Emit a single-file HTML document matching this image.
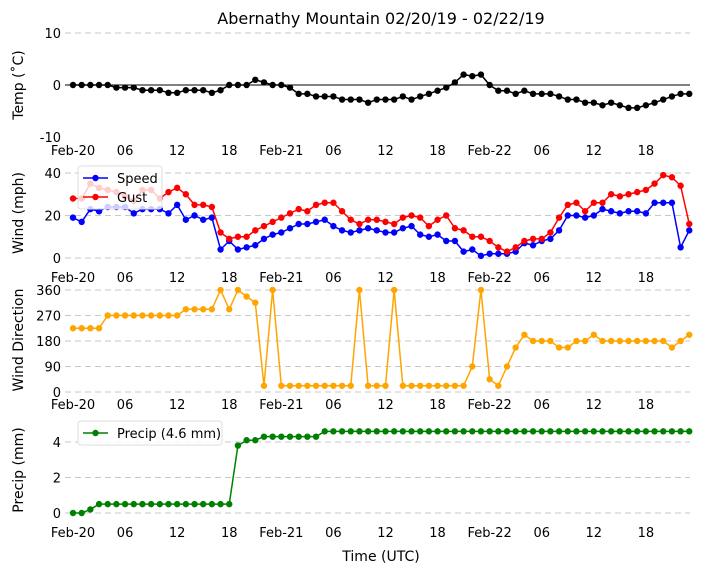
<!DOCTYPE html>
<html><head><meta charset="utf-8"><style>
body{margin:0;background:#fff}
svg{display:block;font-family:"DejaVu Sans","Liberation Sans",sans-serif}
</style></head><body>
<svg id="c" width="704" height="573" viewBox="0 0 704 573"></svg>
<script>
const hours=[];for(let i=0;i<72;i++)hours.push(i);
const tickHours=[0,6,12,18,24,30,36,42,48,54,60,66];
const tickLabels=["Feb-20","06","12","18","Feb-21","06","12","18","Feb-22","06","12","18"];
const temp=[0,0,0,0,0,-0.5,-0.5,-0.5,-1,-1,-1,-1.5,-1.5,-1,-1,-1,-1.5,-1,0,0,0,1,0.5,0,0,-0.5,-1.7,-1.7,-2.2,-2.2,-2.2,-2.8,-2.8,-2.8,-3.4,-2.8,-2.8,-2.8,-2.2,-2.8,-2.2,-1.7,-1.1,-0.5,0.5,2,1.7,2,0,-1.1,-1.1,-1.7,-1.1,-1.7,-1.7,-1.7,-2.2,-2.8,-2.8,-3.4,-3.4,-3.9,-3.4,-3.9,-4.4,-4.4,-3.9,-3.4,-2.8,-2.2,-1.7,-1.7];
const speed=[19,17,23,22,24,24,24,21,23,23,23,21,25,18,20,18,19,4,8,4,5,6,9,11,12,14,16,16,17,18,15,13,12,13,14,13,12,12,14,15,11,10,11,8,8,3,4,1,2,2,2,3,7,6,8,9,13,20,20,19,20,23,22,21,22,22,21,26,26,26,5,13];
const gust=[28,28,35,33,32,31,29,27,32,32,28,31,33,30,25,25,24,12,9,10,10,13,15,17,19,21,23,22,25,26,26,22,18,16,18,18,17,16,19,20,19,15,18,20,14,13,10,10,8,5,3,5,8,9,9,12,19,25,26,22,26,26,30,29,30,31,32,35,39,38,34,16];
const dir=[225,225,225,225,270,270,270,270,270,270,270,270,270,292,292,292,292,360,292,360,337,315,22,360,22,22,22,22,22,22,22,22,22,360,22,22,22,360,22,22,22,22,22,22,22,22,90,360,45,22,90,157,202,180,180,180,157,157,180,180,202,180,180,180,180,180,180,180,180,157,180,202];
const precip=[0,0,0.2,0.5,0.5,0.5,0.5,0.5,0.5,0.5,0.5,0.5,0.5,0.5,0.5,0.5,0.5,0.5,0.5,3.8,4.1,4.1,4.3,4.3,4.3,4.3,4.3,4.3,4.3,4.6,4.6,4.6,4.6,4.6,4.6,4.6,4.6,4.6,4.6,4.6,4.6,4.6,4.6,4.6,4.6,4.6,4.6,4.6,4.6,4.6,4.6,4.6,4.6,4.6,4.6,4.6,4.6,4.6,4.6,4.6,4.6,4.6,4.6,4.6,4.6,4.6,4.6,4.6,4.6,4.6,4.6,4.6];

const svg=document.getElementById('c');const NS='http://www.w3.org/2000/svg';
function mk(t,a,p){const e=document.createElementNS(NS,t);for(const k in a)e.setAttribute(k,a[k]);(p||svg).appendChild(e);return e;}
const X=h=>73+h*8.68;
function lin(v0,y0,v1,y1){return v=>y0+(v-v0)*(y1-y0)/(v1-v0);}

function txt(x,y,s,anchor,size,name,rot){const t=mk('text',{x:x,y:y,'text-anchor':anchor||'middle','font-size':size||13,fill:'#000'});if(rot)t.setAttribute('transform',`rotate(-90 ${x} ${y})`);t.textContent=s;return t;}

function panel(name,Y,yticks,grid,labelY,ylab,ylabY){
  const g=mk('g',{});
  grid.forEach(v=>{const l=mk('line',{x1:65,x2:690,y1:Y(v),y2:Y(v),stroke:'#c8c8c8','stroke-dasharray':'6,4','stroke-width':1},g);});
  yticks.forEach(v=>{const t=txt(61,Y(v)+5,String(v),'end',13,name+'-y-tick');});
  tickHours.forEach((h,i)=>{txt(X(h),labelY,tickLabels[i],'middle',13,name+'-x-tick');});
  txt(23,ylabY,ylab,'middle',14,name+'-y-axis-title',true);
  return g;
}
function series(vals,Y,color,name){
  const g=mk('g',{});
  const pl=mk('polyline',{points:vals.map((v,i)=>X(hours[i])+','+Y(v)).join(' '),fill:'none',stroke:color,'stroke-width':1.5},g);
  
  vals.forEach((v,i)=>{const c=mk('circle',{cx:X(hours[i]),cy:Y(v),r:3.2,fill:color},g);});
}
function legend(x,y,w,items,name){
  const g=mk('g',{});
  const r=mk('rect',{x:x,y:y,width:w,height:items.length*19+5,rx:3,fill:'rgba(255,255,255,0.8)',stroke:'#ddd'},g);
  items.forEach((it,i)=>{const yy=y+12+i*19;
    const l=mk('line',{x1:x+5,x2:x+30,y1:yy,y2:yy,stroke:it[1],'stroke-width':1.5},g);
    const c=mk('circle',{cx:x+17.5,cy:yy,r:3.2,fill:it[1]},g);
    const t=mk('text',{x:x+39,y:yy+5,'font-size':13},g);t.textContent=it[0];});
}

txt(381,24,'Abernathy Mountain 02/20/19 - 02/22/19','middle',16,'chart-title');
const YT=lin(10,33,-10,137);
panel('temp',YT,[10,0,-10],[10],155,'Temp (˚C)',85);
const zl=mk('line',{x1:65,x2:690,y1:YT(0),y2:YT(0),stroke:'#000','stroke-width':1});
series(temp,YT,'#000','temp');
const YW=lin(0,258,40,173);
panel('wind',YW,[0,20,40],[0,20,40],282,'Wind (mph)',213);
series(speed,YW,'#0000ff','speed');
series(gust,YW,'#ff0000','gust');
legend(78,166,84,[['Speed','#0000ff'],['Gust','#ff0000']],'wind-legend');
const YD=lin(0,392,360,290);
panel('dir',YD,[0,90,180,270,360],[0,90,180,270,360],409,'Wind Direction',340);
series(dir,YD,'#ffa500','direction');
const YP=lin(0,513,4,442);
panel('precip',YP,[0,2,4],[0,2,4],537,'Precip (mm)',470);
series(precip,YP,'#008000','precip');
legend(78,421,144,[['Precip (4.6 mm)','#008000']],'precip-legend');
txt(381,561,'Time (UTC)','middle',14,'x-axis-title');
</script>
</body></html>
